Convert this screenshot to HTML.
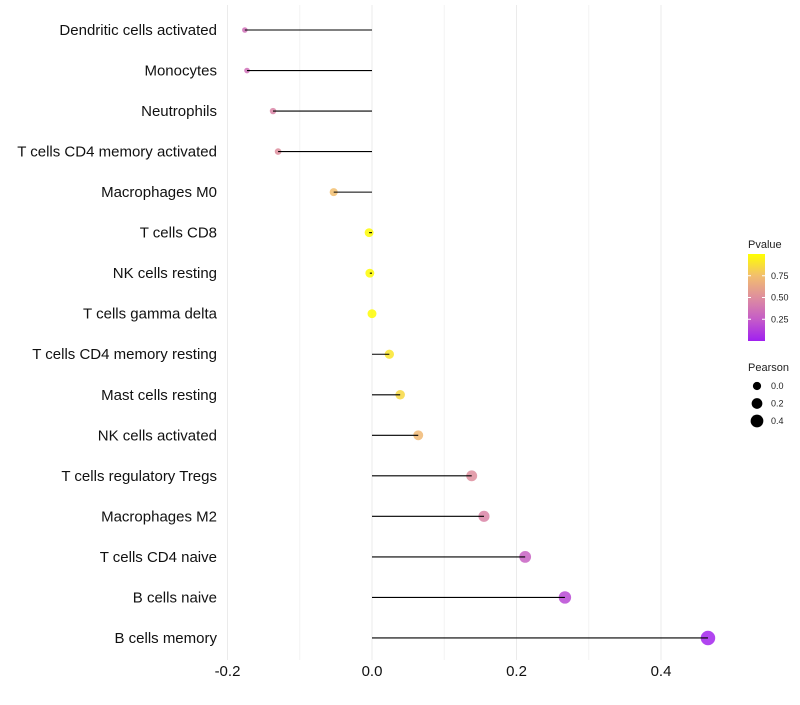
<!DOCTYPE html>
<html><head><meta charset="utf-8"><style>
body{margin:0;background:#fff;font-family:"Liberation Sans",Arial,sans-serif}
svg text{font-family:"Liberation Sans",Arial,sans-serif}
</style></head><body>
<svg id="chart" width="800" height="700" xmlns="http://www.w3.org/2000/svg">
<defs><linearGradient id="pg" x1="0" y1="1" x2="0" y2="0">
<stop offset="0" stop-color="#A020F0"/><stop offset="0.25" stop-color="#C55CC8"/><stop offset="0.5" stop-color="#DE8E9E"/><stop offset="0.75" stop-color="#F2BE6E"/><stop offset="1" stop-color="#FFFF00"/></linearGradient></defs>
<g id="grid"></g>
<g id="marks"></g>
<g id="labels"></g>
<g id="xt"></g>
<g>
<text x="748" y="248" font-size="11" fill="#222">Pvalue</text>
<rect x="748" y="254" width="17" height="87" fill="url(#pg)"/>
<g id="cb"></g>
</g>
<g>
<text x="748" y="371" font-size="11" fill="#222">Pearson</text>
<g id="sl"></g>
</g>
</svg>
<script>
const categories=["Dendritic cells activated","Monocytes","Neutrophils","T cells CD4 memory activated","Macrophages M0","T cells CD8","NK cells resting","T cells gamma delta","T cells CD4 memory resting","Mast cells resting","NK cells activated","T cells regulatory  Tregs ","Macrophages M2","T cells CD4 naive","B cells naive","B cells memory"];
const pearson=[-0.176,-0.173,-0.137,-0.130,-0.053,-0.004,-0.003,0.0,0.024,0.039,0.064,0.138,0.155,0.212,0.267,0.465];
const pvalue=[0.35,0.35,0.45,0.5,0.75,0.99,0.99,0.99,0.9,0.85,0.72,0.5,0.45,0.28,0.17,0.02];
const xTicks=[-0.2,0.0,0.2,0.4];
const xTickLabels=["-0.2","0.0","0.2","0.4"];
const NS="http://www.w3.org/2000/svg";
const X=v=>372+v*722.5;
const Y=i=>30+i*40.53;
const R=v=>Math.max(1.6,Math.sqrt(Math.max(2.5,20+70*v)));
const stops=[[0,[160,32,240]],[0.25,[197,92,200]],[0.5,[222,142,158]],[0.75,[242,190,110]],[1,[255,255,0]]];
function col(p){for(let k=0;k<stops.length-1;k++){const a=stops[k],b=stops[k+1];if(p<=b[0]){const t=(p-a[0])/(b[0]-a[0]);return 'rgb('+a[1].map((c,j)=>Math.round(c+(b[1][j]-c)*t)).join(',')+')';}}return 'rgb(255,255,0)';}
function mk(tag,attrs,parent){const e=document.createElementNS(NS,tag);for(const k in attrs)e.setAttribute(k,attrs[k]);parent.appendChild(e);return e;}
const grid=document.getElementById('grid');
for(let k=-2;k<=4;k++){const v=k/10;const g=mk('line',{x1:X(v),x2:X(v),y1:5,y2:660,stroke:k%2===0?'#ebebeb':'#f3f3f3','stroke-width':1},grid);

}
const marks=document.getElementById('marks'),labels=document.getElementById('labels');
categories.forEach((c,i)=>{
const pt=mk('circle',{cx:X(pearson[i]),cy:Y(i),r:R(pearson[i]),fill:col(pvalue[i]),'fill-opacity':0.85},marks);


const ln=mk('line',{x1:X(0),x2:X(pearson[i]),y1:Y(i),y2:Y(i),stroke:'#000','stroke-width':1.1},marks);


const t=mk('text',{x:217,y:Y(i)+5,'text-anchor':'end','font-size':15,fill:'#111'},labels);t.textContent=c;
t.setAttribute('xml:space','preserve');


});
const xt=document.getElementById('xt');
xTicks.forEach((v,i)=>{const t=mk('text',{x:X(v),y:676,'text-anchor':'middle','font-size':15,fill:'#111'},xt);t.textContent=xTickLabels[i];

});
const cb=document.getElementById('cb');
[0.25,0.5,0.75].forEach(p=>{const y=341-p*87;
mk('line',{x1:748,x2:751,y1:y,y2:y,stroke:'#fff'},cb);mk('line',{x1:762,x2:765,y1:y,y2:y,stroke:'#fff'},cb);
const t=mk('text',{x:771,y:y+3,'font-size':9,fill:'#222'},cb);t.textContent=p.toFixed(2);

});
const sl=document.getElementById('sl');
[0.0,0.2,0.4].forEach((v,i)=>{const y=386+i*17.5;
const c=mk('circle',{cx:757,cy:y,r:R(v)*0.92,fill:'#000'},sl);


const t=mk('text',{x:771,y:y+3,'font-size':9,fill:'#222'},sl);t.textContent=v.toFixed(1);

});
</script>
</body></html>
